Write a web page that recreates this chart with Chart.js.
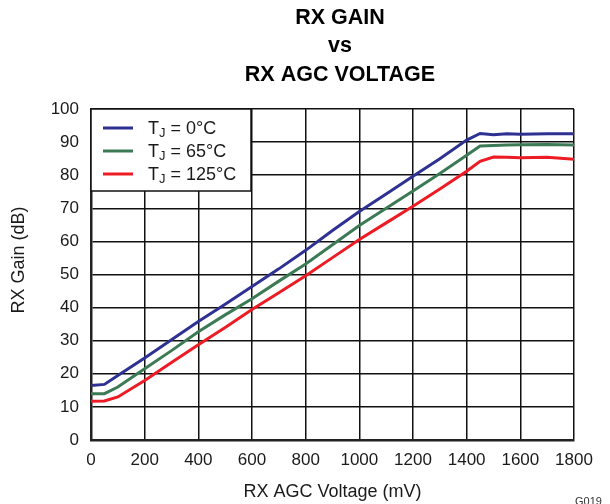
<!DOCTYPE html>
<html lang="en">
<head>
<meta charset="UTF-8">
<title>RX Gain vs RX AGC Voltage</title>
<script src="https://cdn.jsdelivr.net/npm/chart.js"></script>
<style>
  html, body { margin: 0; padding: 0; background: #fff; }
  #wrap { width: 610px; height: 504px; }
</style>
</head>
<body>
<div id="wrap"><canvas id="gainChart" width="610" height="504"></canvas></div>
<script>
// values
const agcVoltage = [0, 50, 100, 200, 300, 400, 500, 600, 700, 800, 900, 1000, 1100, 1200, 1300, 1400, 1450, 1500, 1550, 1600, 1700, 1800];
const gain0C   = [16.5, 16.8, 19.5, 24.8, 30.3, 35.8, 41.0, 46.4, 51.7, 57.3, 63.3, 69.0, 74.3, 79.7, 85.0, 90.6, 92.6, 92.2, 92.5, 92.4, 92.5, 92.5];
const gain65C  = [14.0, 14.0, 16.0, 21.5, 27.0, 32.7, 37.8, 42.7, 48.0, 53.2, 59.0, 64.8, 70.0, 75.2, 80.5, 86.0, 88.8, 89.0, 89.1, 89.2, 89.3, 89.1];
const gain125C = [11.7, 11.8, 13.0, 18.0, 23.4, 28.8, 34.0, 39.4, 44.5, 49.6, 55.1, 60.6, 65.6, 70.6, 75.8, 81.2, 84.2, 85.5, 85.4, 85.3, 85.4, 84.8];

const seriesTemps = ['0°C', '65°C', '125°C'];
const seriesColors = ['#2E3192', '#3C7A55', '#ED1C24'];
const xTicks = [0, 200, 400, 600, 800, 1000, 1200, 1400, 1600, 1800];
const yTicks = [0, 10, 20, 30, 40, 50, 60, 70, 80, 90, 100];
const titleLines = ['RX GAIN', 'vs', 'RX AGC VOLTAGE'];
const yTitle = 'RX Gain (dB)';
const xTitle = 'RX AGC Voltage (mV)';
const figureCode = 'G019';

const FONT = '"Liberation Sans", Arial, Helvetica, sans-serif';

function toPoints(ys) {
    return agcVoltage.map((x, i) => ({ x: x, y: ys[i] }));
}

// title, y title, boxed legend with subscript and figure code
const decor = {
    id: 'decor',
    afterDraw(chart) {
        const ctx = chart.ctx;
        const area = chart.chartArea;
        ctx.save();

        ctx.fillStyle = '#000';
        ctx.textAlign = 'center';
        ctx.textBaseline = 'middle';
        ctx.font = 'bold 21.5px ' + FONT;
        titleLines.forEach((t, i) => ctx.fillText(t, 340, 18 + i * 28.5));

        ctx.save();
        ctx.translate(19, 260);
        ctx.rotate(-Math.PI / 2);
        ctx.font = '18px ' + FONT;
        ctx.fillStyle = '#1a1a1a';
        ctx.fillText(yTitle, 0, 0);
        ctx.restore();

        const lx = area.left, ly = area.top, lw = 160, lh = 82;
        ctx.fillStyle = '#fff';
        ctx.fillRect(lx, ly, lw, lh);
        ctx.strokeStyle = '#111';
        ctx.lineWidth = 1.5;
        ctx.strokeRect(lx, ly, lw, lh);

        chart.data.datasets.forEach((ds, i) => {
            const y = ly + 19 + i * 23;
            ctx.strokeStyle = ds.borderColor;
            ctx.lineWidth = 3;
            ctx.beginPath();
            ctx.moveTo(lx + 12, y);
            ctx.lineTo(lx + 42, y);
            ctx.stroke();

            ctx.fillStyle = '#1a1a1a';
            ctx.textAlign = 'left';
            ctx.textBaseline = 'alphabetic';
            let x = lx + 57;
            ctx.font = '18px ' + FONT;
            ctx.fillText('T', x, y + 6);
            x += ctx.measureText('T').width;
            ctx.font = '13px ' + FONT;
            ctx.fillText('J', x, y + 9);
            x += ctx.measureText('J').width;
            ctx.font = '18px ' + FONT;
            ctx.fillText(' = ' + seriesTemps[i], x, y + 6);
        });

        ctx.font = '11px ' + FONT;
        ctx.fillStyle = '#333';
        ctx.textAlign = 'left';
        ctx.textBaseline = 'top';
        ctx.fillText(figureCode, 575, 496);
        ctx.restore();
    }
};

new Chart(document.getElementById('gainChart'), {
    type: 'line',
    data: {
        datasets: [
            { label: 'TJ = 0°C', data: toPoints(gain0C), borderColor: seriesColors[0] },
            { label: 'TJ = 65°C', data: toPoints(gain65C), borderColor: seriesColors[1] },
            { label: 'TJ = 125°C', data: toPoints(gain125C), borderColor: seriesColors[2] }
        ]
    },
    options: {
        responsive: false,
        animation: false,
        devicePixelRatio: 1,
        layout: { padding: { left: 0, right: 36, top: 109, bottom: 0 } },
        elements: {
            line: { borderWidth: 3, tension: 0 },
            point: { radius: 0 }
        },
        plugins: {
            legend: { display: false },
            title: { display: false },
            tooltip: { enabled: false }
        },
        scales: {
            x: {
                type: 'linear',
                min: 0,
                max: 1800,
                afterBuildTicks: (s) => { s.ticks = xTicks.map(v => ({ value: v })); },
                afterFit: (s) => { s.height = 64; },
                grid: { color: '#111', lineWidth: 1.5, drawTicks: false },
                border: { color: '#222', width: 2.5 },
                ticks: {
                    color: '#1a1a1a', padding: 10, maxRotation: 0,
                    font: { size: 17, family: FONT },
                    callback: (v) => String(v)
                },
                title: { display: true, text: xTitle, color: '#1a1a1a', padding: { top: 0, bottom: 1 }, font: { size: 18, family: FONT } }
            },
            y: {
                min: 0,
                max: 100,
                afterBuildTicks: (s) => { s.ticks = yTicks.map(v => ({ value: v })); },
                afterFit: (s) => { s.width = 91; },
                grid: { color: '#111', lineWidth: 1.5, drawTicks: false },
                border: { color: '#222', width: 2.5 },
                ticks: {
                    color: '#1a1a1a', padding: 12,
                    font: { size: 17, family: FONT },
                    callback: (v) => String(v)
                }
            }
        }
    },
    plugins: [decor]
});
</script>
</body>
</html>
